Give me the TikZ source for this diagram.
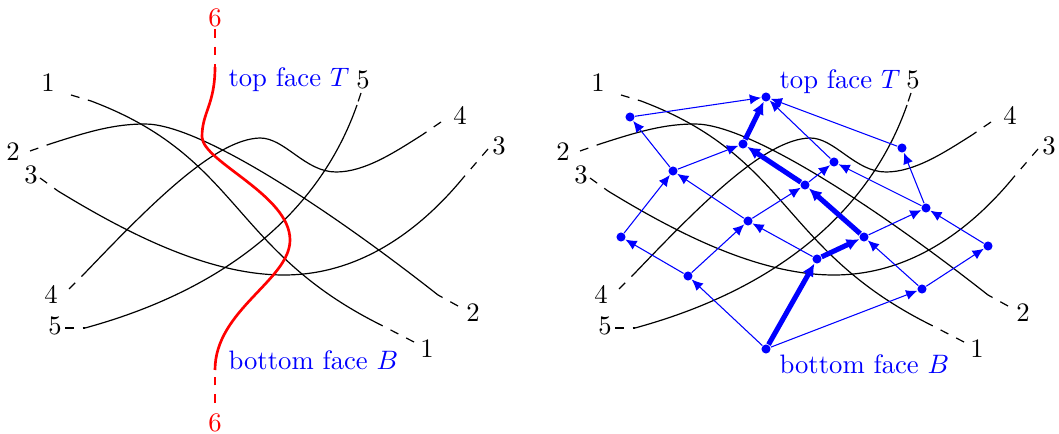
\documentclass[tikz,border=0pt]{standalone}
\usetikzlibrary{arrows.meta}
\tikzset{
  strand/.style={line width=0.45pt},
  dashend/.style={line width=0.45pt, dash pattern=on 3.3pt off 3.3pt},
  lbl/.style={inner sep=0pt},
  facelbl/.style={text=blue, anchor=base west, inner sep=0pt},
  vtx/.style={circle, fill=blue, inner sep=0pt, minimum size=3.4pt},
  thinarc/.style={blue, line width=0.4pt, -{Latex[length=4.2pt,width=3.8pt]}},
  heavyarc/.style={blue, line width=1.9pt, -{Latex[length=4.8pt,width=4.6pt]}},
  redstrand/.style={red, line width=1pt},
  reddash/.style={red, line width=1pt, dash pattern=on 3.3pt off 3.3pt},
}
\newcommand\drawstrands[2]{%
\begin{scope}[shift={(#2,0)}]
 \node[lbl] (#1L1a) at (48,83) {1};
 \node[lbl] (#1L1b) at (427,349) {1};
 \node[lbl] (#1L2a) at (13,152) {2};
 \node[lbl] (#1L2b) at (473,313) {2};
 \node[lbl] (#1L3a) at (31,175) {3};
 \node[lbl] (#1L3b) at (499,146) {3};
 \node[lbl] (#1L4a) at (51,294) {4};
 \node[lbl] (#1L4b) at (460,115) {4};
 \node[lbl] (#1L5a) at (55,326) {5};
 \node[lbl] (#1L5b) at (363,80) {5};
 % strand 1
 \coordinate (#1E1a) at (71,95);   \coordinate (#1S1a) at (91,101);
 \coordinate (#1S1b) at (379,324); \coordinate (#1E1b) at (414,342);
 \draw[dashend] (#1E1a) -- (#1S1a);
 \draw[strand] (#1S1a) .. controls (240,157) and (230,249) .. (#1S1b);
 \draw[dashend] (#1E1b) -- (#1S1b);
 % strand 2
 \coordinate (#1E2a) at (30,151);  \coordinate (#1S2a) at (50,144);
 \coordinate (#1S2b) at (438,295); \coordinate (#1E2b) at (458,306);
 \coordinate (#1P2) at (145,124);
 \draw[dashend] (#1E2a) -- (#1S2a);
 \draw[strand] (#1S2a) .. controls (90,131) and (115,124) .. (#1P2)
               .. controls (200,124) and (330,210) .. (#1S2b);
 \draw[dashend] (#1E2b) -- (#1S2b);
 % strand 3
 \coordinate (#1E3a) at (40,178);  \coordinate (#1S3a) at (58,191);
 \coordinate (#1S3b) at (463,178); \coordinate (#1E3b) at (488,149);
 \coordinate (#1P3) at (284,275);
 \draw[dashend] (#1E3a) -- (#1S3a);
 \draw[strand] (#1S3a) .. controls (130,235) and (210,275) .. (#1P3)
               .. controls (360,275) and (420,230) .. (#1S3b);
 \draw[dashend] (#1E3b) -- (#1S3b);
 % strand 4
 \coordinate (#1E4a) at (69,289);  \coordinate (#1S4a) at (84,274);
 \coordinate (#1S4b) at (422,135); \coordinate (#1E4b) at (441,122);
 \coordinate (#1P4) at (260,138);  \coordinate (#1Q4) at (336,172);
 \draw[dashend] (#1E4a) -- (#1S4a);
 \draw[strand] (#1S4a) .. controls (150,205) and (215,139) .. (#1P4)
               .. controls (285,138) and (305,172) .. (#1Q4)
               .. controls (365,172) and (395,152) .. (#1S4b);
 \draw[dashend] (#1E4b) -- (#1S4b);
 % strand 5
 \coordinate (#1E5a) at (65,328);  \coordinate (#1S5a) at (85,328);
 \coordinate (#1S5b) at (357,105); \coordinate (#1E5b) at (361,93);
 \draw[dashend] (#1E5a) -- (#1S5a);
 \draw[strand] (#1S5a) .. controls (235,287) and (322,205) .. (#1S5b);
 \draw[dashend] (#1E5b) -- (#1S5b);
\end{scope}}
\begin{document}
\begin{tikzpicture}[x=0.375pt, y=-0.375pt]
\useasboundingbox (0,0) rectangle (1059,434);
% ---------- left panel ----------
\drawstrands{A}{0}
\node[lbl, text=red] (R6a) at (215,18) {6};
\node[lbl, text=red] (R6b) at (215,423) {6};
\coordinate (R6e1) at (215,29);  \coordinate (R6s1) at (215,67);
\coordinate (R6s2) at (215,370); \coordinate (R6e2) at (215,403);
\coordinate (R6p) at (202,137);  \coordinate (R6q) at (290,240);
\draw[reddash] (R6e1) -- (R6s1);
\draw[redstrand] (R6s1) .. controls (215,105) and (202,112) .. (R6p)
                 .. controls (203,162) and (290,195) .. (R6q)
                 .. controls (290,280) and (215,310) .. (R6s2);
\draw[reddash] (R6e2) -- (R6s2);
\node[facelbl] (topA) at (228,86.5) {top face $T$};
\node[facelbl] (botA) at (228,370) {bottom face $B$};
% ---------- right panel ----------
\drawstrands{B}{550}
\node[facelbl] (topB) at (779,89) {top face $T$};
\node[facelbl] (botB) at (779,373) {bottom face $B$};
\node[vtx] (T) at (766,97) {};
\node[vtx] (Bf) at (766,349) {};
\node[vtx] (n1) at (630,117) {};
\node[vtx] (n2) at (743,144) {};
\node[vtx] (n3) at (902,148) {};
\node[vtx] (n4) at (673,171) {};
\node[vtx] (n5) at (834,162) {};
\node[vtx] (n6) at (805,185) {};
\node[vtx] (n7) at (926,208) {};
\node[vtx] (n8) at (748,221) {};
\node[vtx] (n9) at (621,237) {};
\node[vtx] (n10) at (864,237) {};
\node[vtx] (n11) at (988,246) {};
\node[vtx] (n12) at (817,259) {};
\node[vtx] (n13) at (688,276) {};
\node[vtx] (n14) at (922,289) {};
\draw[thinarc] (n1) -- (T);
\draw[thinarc] (n3) -- (T);
\draw[thinarc] (n5) -- (T);
\draw[thinarc] (n4) -- (n1);
\draw[thinarc] (n4) -- (n2);
\draw[thinarc] (n7) -- (n3);
\draw[thinarc] (n7) -- (n5);
\draw[thinarc] (n6) -- (n5);
\draw[thinarc] (n10) -- (n7);
\draw[thinarc] (n11) -- (n7);
\draw[thinarc] (n14) -- (n11);
\draw[thinarc] (n14) -- (n10);
\draw[thinarc] (Bf) -- (n14);
\draw[thinarc] (Bf) -- (n13);
\draw[thinarc] (n13) -- (n9);
\draw[thinarc] (n9) -- (n4);
\draw[thinarc] (n13) -- (n8);
\draw[thinarc] (n8) -- (n4);
\draw[thinarc] (n8) -- (n6);
\draw[thinarc] (n12) -- (n8);
\draw[heavyarc] (Bf) -- (n12);
\draw[heavyarc] (n12) -- (n10);
\draw[heavyarc] (n10) -- (n6);
\draw[heavyarc] (n6) -- (n2);
\draw[heavyarc] (n2) -- (T);
\end{tikzpicture}
\end{document}
